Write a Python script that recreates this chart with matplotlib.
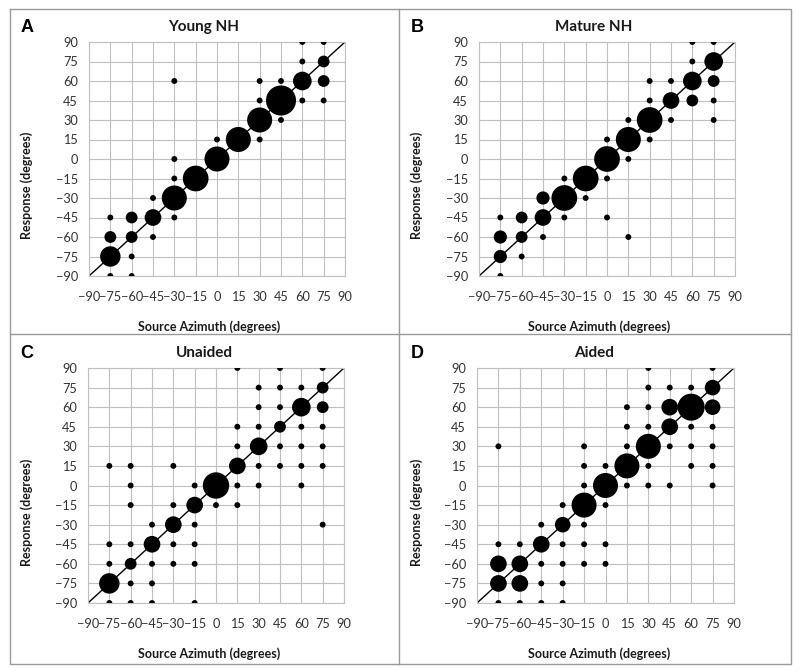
import matplotlib
matplotlib.use("Agg")
import matplotlib.pyplot as plt
import numpy as np

plt.rcParams["font.family"] = ["Lato", "DejaVu Sans"]

ticks = [-90, -75, -60, -45, -30, -15, 0, 15, 30, 45, 60, 75, 90]

# Young NH: source azimuth, response, count
young_x = [-75, -75, -75, -75, -60, -60, -60, -60, -45, -45, -45, -30, -30, -30, -30, -30,
           -15, 0, 0, 15, 30, 30, 30, 30, 45, 45, 45, 60, 60, 60, 60, 75, 75, 75, 75]
young_y = [-90, -75, -60, -45, -90, -75, -60, -45, -60, -45, -30, -45, -30, -15, 0, 60,
           -15, 0, 15, 15, 15, 30, 45, 60, 30, 45, 60, 45, 60, 75, 90, 45, 60, 75, 90]
young_n = [1, 12, 4, 1, 1, 1, 4, 4, 1, 8, 1, 1, 18, 1, 1, 1,
           19, 18, 1, 18, 1, 18, 1, 1, 1, 26, 1, 1, 10, 1, 1, 1, 4, 4, 1]

# Mature NH
mature_x = [-75, -75, -75, -75, -60, -60, -60, -45, -45, -45, -30, -30, -30, -15, -15,
            0, 0, 0, 0, 15, 15, 15, 15, 30, 30, 30, 30, 45, 45, 45,
            60, 60, 60, 60, 75, 75, 75, 75, 75]
mature_y = [-90, -75, -60, -45, -75, -60, -45, -60, -45, -30, -45, -30, -15, -30, -15,
            -45, -15, 0, 15, -60, 0, 15, 30, 15, 30, 45, 60, 30, 45, 60,
            45, 60, 75, 90, 30, 45, 60, 75, 90]
mature_n = [1, 5, 5, 1, 1, 4, 4, 1, 8, 5, 1, 19, 1, 1, 19,
            1, 1, 19, 1, 1, 1, 18, 1, 1, 19, 1, 1, 1, 8, 1,
            4, 10, 1, 1, 1, 1, 4, 10, 1]

# Unaided
unaided_x = [-75, -75, -75, -75, -75,
             -60, -60, -60, -60, -60, -60, -60,
             -45, -45, -45, -45, -45,
             -30, -30, -30, -30, -30,
             -15, -15, -15, -15, -15, -15,
             0, 0,
             15, 15, 15, 15, 15, 15,
             30, 30, 30, 30, 30, 30,
             45, 45, 45, 45, 45, 45,
             60, 60, 60, 60, 60, 60,
             75, 75, 75, 75, 75, 75, 75]
unaided_y = [15, -45, -60, -75, -90,
             15, 0, -15, -45, -60, -75, -90,
             -30, -45, -60, -75, -90,
             15, -15, -30, -45, -60,
             0, -15, -30, -45, -60, -90,
             0, -15,
             90, 45, 30, 15, 0, -15,
             75, 60, 45, 30, 15, 0,
             90, 75, 60, 45, 30, 15,
             75, 60, 45, 30, 15, 0,
             90, 75, 60, 45, 30, 15, -30]
unaided_n = [1, 1, 1, 12, 1,
             1, 1, 1, 1, 4, 1, 1,
             1, 8, 1, 1, 1,
             1, 1, 8, 1, 1,
             1, 8, 1, 1, 1, 1,
             20, 1,
             1, 1, 1, 8, 1, 1,
             1, 1, 1, 9, 1, 1,
             1, 1, 1, 4, 1, 1,
             1, 10, 1, 1, 1, 1,
             1, 4, 4, 1, 1, 1, 1]

# Aided
aided_x = [-75, -75, -75, -75, -75,
           -60, -60, -60, -60,
           -45, -45, -45, -45, -45,
           -30, -30, -30, -30, -30, -30,
           -15, -15, -15, -15, -15, -15, -15,
           0, 0, 0, 0, 0,
           15, 15, 15, 15, 15,
           30, 30, 30, 30, 30, 30, 30,
           45, 45, 45, 45, 45,
           60, 60, 60, 60, 60,
           75, 75, 75, 75, 75, 75, 75]
aided_y = [30, -45, -60, -75, -90,
           -45, -60, -75, -90,
           -30, -45, -60, -75, -90,
           -15, -30, -45, -60, -75, -90,
           30, 15, 0, -15, -30, -45, -60,
           15, 0, -15, -45, -60,
           60, 45, 30, 15, 0,
           90, 75, 60, 45, 30, 15, 0,
           75, 60, 45, 30, 0,
           75, 60, 45, 30, 15,
           90, 75, 60, 45, 30, 15, 0]
aided_n = [1, 1, 8, 8, 1,
           1, 8, 8, 1,
           1, 8, 1, 1, 1,
           1, 7, 1, 1, 1, 1,
           1, 1, 1, 18, 1, 1, 1,
           1, 18, 1, 1, 1,
           1, 1, 1, 18, 1,
           1, 1, 1, 1, 18, 1, 1,
           1, 8, 8, 1, 1,
           1, 21, 1, 1, 1,
           1, 7, 7, 1, 1, 1, 1]

panels = [
    ("A", "Young NH", young_x, young_y, young_n),
    ("B", "Mature NH", mature_x, mature_y, mature_n),
    ("C", "Unaided", unaided_x, unaided_y, unaided_n),
    ("D", "Aided", aided_x, aided_y, aided_n),
]

W, H = 800, 672
fig = plt.figure(figsize=(W / 100, H / 100), dpi=100)


def fx(x):
    return x / W


def fy(y):
    return 1 - y / H


# axes boxes in pixels: left, top, right, bottom
boxes = [(89, 42, 345, 276), (479, 42, 735, 276), (88, 368, 344, 603), (477, 368, 734, 603)]
# panel origins in pixels (top-left)
origins = [(0, 0), (390, 0), (0, 326), (390, 326)]

unit = (5.9 * 0.72) ** 2  # marker area for a count of 1

for (letter, title, xs, ys, ns), (l, t, r, b), (ox, oy) in zip(panels, boxes, origins):
    ax = fig.add_axes([fx(l), fy(b), fx(r - l), (b - t) / H])
    ax.set_xlim(-90, 90)
    ax.set_ylim(-90, 90)
    ax.set_xticks(ticks)
    ax.set_yticks(ticks)
    ax.grid(True, color="#bfbfbf", linewidth=0.8)
    ax.set_axisbelow(True)
    for sp in ax.spines.values():
        sp.set_color("#bfbfbf")
        sp.set_linewidth(0.8)
    ax.tick_params(length=0, labelsize=9.2, colors="#333333", labelcolor="#333333")
    ax.tick_params(axis="x", pad=11)
    ax.tick_params(axis="y", pad=8)
    ax.plot([-90, 90], [-90, 90], color="black", linewidth=1.0, zorder=2)
    ax.scatter(xs, ys, s=np.array(ns) * unit, color="black", linewidths=0, zorder=3)

    fig.text(fx(ox + 27), fy(oy + 28), letter, fontsize=13, fontweight="bold",
             family=["Liberation Sans", "DejaVu Sans"], ha="center", va="center")
    fig.text(fx(ox + 204), fy(oy + 27), title, fontsize=11, fontweight="bold",
             ha="center", va="center", color="#1a1a1a")
    fig.text(fx(ox + 209), fy(b + 51), "Source Azimuth (degrees)", fontsize=9,
             fontweight="bold", ha="center", va="center", color="#1a1a1a")
    fig.text(fx(ox + 27), fy(oy + 185 if oy == 0 else b - 91), "Response (degrees)",
             fontsize=9, fontweight="bold", rotation=90, ha="center", va="center",
             color="#1a1a1a")

# panel frame lines
frame = dict(color="#999999", linewidth=1.0, transform=fig.transFigure)
fig.add_artist(plt.Line2D([fx(10), fx(791), fx(791), fx(10), fx(10)],
                          [fy(9), fy(9), fy(664), fy(664), fy(9)], **frame))
fig.add_artist(plt.Line2D([fx(399), fx(399)], [fy(9), fy(664)], **frame))
fig.add_artist(plt.Line2D([fx(10), fx(791)], [fy(334), fy(334)], **frame))

fig.savefig("out.png", dpi=100, facecolor="white")
